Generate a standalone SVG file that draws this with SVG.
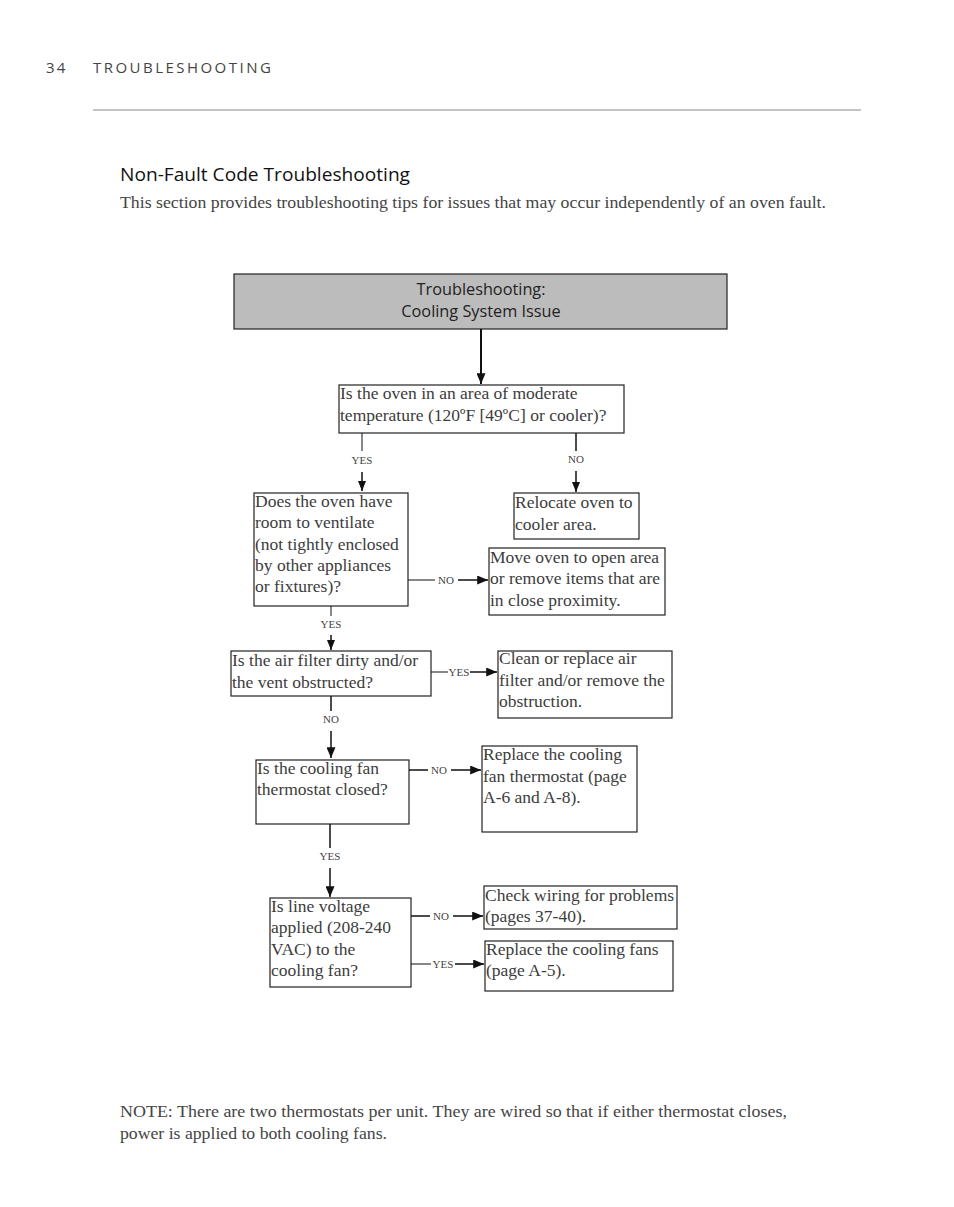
<svg xmlns="http://www.w3.org/2000/svg" width="954" height="1207" viewBox="0 0 954 1207">
<style>
.hdr{font-family:"Open Sans","Liberation Sans",sans-serif;font-size:15px;fill:#444;letter-spacing:2.2px}
.ttl{font-family:"Open Sans","Liberation Sans",sans-serif;font-size:19px;fill:#111}
.body{font-family:"Liberation Serif",serif;font-size:16px;fill:#444}
.bt{font-family:"Liberation Serif",serif;font-size:17.5px;fill:#3c3c3c}
.top{font-family:"Open Sans","Liberation Sans",sans-serif;font-size:16.3px;fill:#222;text-anchor:middle}
.lbl{font-family:"Liberation Serif",serif;font-size:11px;fill:#444;text-anchor:middle}
.box{fill:#fff;stroke:#222;stroke-width:1.2}
.ln{stroke:#111;stroke-width:1.5;fill:none}
.thin{stroke:#111;stroke-width:1;fill:none}
</style>
<defs>
<marker id="ah" viewBox="0 0 10 10" refX="10" refY="5" markerWidth="10" markerHeight="10" markerUnits="userSpaceOnUse" orient="auto">
<path d="M0,1 L10,5 L0,9 Z" fill="#111"/>
</marker>
<marker id="ahl" viewBox="0 0 12 10" refX="12" refY="5" markerWidth="12" markerHeight="9" markerUnits="userSpaceOnUse" orient="auto">
<path d="M0,0 L12,5 L0,10 Z" fill="#111"/>
</marker>
</defs>
<rect width="954" height="1207" fill="#fff"/>
<g id="header">
<text class="hdr" x="46" y="73">34</text>
<text class="hdr" x="93" y="73" textLength="180" lengthAdjust="spacing">TROUBLESHOOTING</text>
<line x1="93" y1="110" x2="861" y2="110" stroke="#888" stroke-width="1"/>
<text class="ttl" x="120" y="181" textLength="290" lengthAdjust="spacingAndGlyphs">Non-Fault Code Troubleshooting</text>
<text class="body" x="120" y="208" textLength="706" lengthAdjust="spacingAndGlyphs">This section provides troubleshooting tips for issues that may occur independently of an oven fault.</text>
</g>
<g id="n-start">
<rect x="234" y="274" width="493" height="55" fill="#bcbcbc" stroke="#222" stroke-width="1.2"/>
<text class="top" x="481" y="295">Troubleshooting:</text>
<text class="top" x="481" y="317">Cooling System Issue</text>
</g>
<g id="n-temp">
<rect class="box" x="339" y="385" width="285" height="48"/>
<text class="bt" x="340" y="399">Is the oven in an area of moderate</text>
<text class="bt" x="340" y="421">temperature (120ºF [49ºC] or cooler)?</text>
</g>
<g id="n-vent">
<rect class="box" x="254" y="493" width="154" height="113"/>
<text class="bt" x="255" y="507">Does the oven have</text>
<text class="bt" x="255" y="528">room to ventilate</text>
<text class="bt" x="255" y="550">(not tightly enclosed</text>
<text class="bt" x="255" y="571">by other appliances</text>
<text class="bt" x="255" y="592">or fixtures)?</text>
</g>
<g id="n-relocate">
<rect class="box" x="514" y="493" width="125" height="46"/>
<text class="bt" x="515" y="508">Relocate oven to</text>
<text class="bt" x="515" y="530">cooler area.</text>
</g>
<g id="n-move">
<rect class="box" x="489" y="548" width="176" height="67"/>
<text class="bt" x="490" y="563">Move oven to open area</text>
<text class="bt" x="490" y="584">or remove items that are</text>
<text class="bt" x="490" y="606">in close proximity.</text>
</g>
<g id="n-filter">
<rect class="box" x="231" y="651" width="200" height="45"/>
<text class="bt" x="232" y="666">Is the air filter dirty and/or</text>
<text class="bt" x="232" y="688">the vent obstructed?</text>
</g>
<g id="n-clean">
<rect class="box" x="498" y="651" width="174" height="67"/>
<text class="bt" x="499" y="664">Clean or replace air</text>
<text class="bt" x="499" y="686">filter and/or remove the</text>
<text class="bt" x="499" y="707">obstruction.</text>
</g>
<g id="n-thermostat">
<rect class="box" x="256" y="760" width="153" height="64"/>
<text class="bt" x="257" y="774">Is the cooling fan</text>
<text class="bt" x="257" y="795">thermostat closed?</text>
</g>
<g id="n-replace-thermo">
<rect class="box" x="482" y="746" width="155" height="86"/>
<text class="bt" x="483" y="760">Replace the cooling</text>
<text class="bt" x="483" y="782">fan thermostat (page</text>
<text class="bt" x="483" y="803">A-6 and A-8).</text>
</g>
<g id="n-voltage">
<rect class="box" x="270" y="898" width="141" height="89"/>
<text class="bt" x="271" y="912">Is line voltage</text>
<text class="bt" x="271" y="933">applied (208-240</text>
<text class="bt" x="271" y="955">VAC) to the</text>
<text class="bt" x="271" y="976">cooling fan?</text>
</g>
<g id="n-wiring">
<rect class="box" x="484" y="886" width="193" height="43"/>
<text class="bt" x="485" y="901">Check wiring for problems</text>
<text class="bt" x="485" y="922">(pages 37-40).</text>
</g>
<g id="n-fans">
<rect class="box" x="485" y="941" width="188" height="50"/>
<text class="bt" x="486" y="955">Replace the cooling fans</text>
<text class="bt" x="486" y="976">(page A-5).</text>
</g>
<g id="connectors">
<line x1="481" y1="329" x2="481" y2="384" stroke="#111" stroke-width="2" marker-end="url(#ahl)"/>
<line class="thin" x1="362" y1="433" x2="362" y2="451"/>
<text class="lbl" x="362" y="464">YES</text>
<line class="ln" x1="362" y1="472" x2="362" y2="491" marker-end="url(#ah)"/>
<line class="ln" x1="576" y1="433" x2="576" y2="451" stroke-width="2"/>
<text class="lbl" x="576" y="463">NO</text>
<line class="ln" x1="576" y1="471" x2="576" y2="492" stroke-width="2" marker-end="url(#ah)"/>
<line class="thin" x1="408" y1="580" x2="435" y2="580"/>
<text class="lbl" x="446" y="584">NO</text>
<line class="ln" x1="458" y1="580" x2="488" y2="580" marker-end="url(#ahl)"/>
<line class="thin" x1="331" y1="606" x2="331" y2="616"/>
<text class="lbl" x="331" y="628">YES</text>
<line class="ln" x1="331" y1="635" x2="331" y2="650" marker-end="url(#ah)"/>
<line class="thin" x1="431" y1="672" x2="448" y2="672"/>
<text class="lbl" x="459" y="676">YES</text>
<line class="ln" x1="470" y1="672" x2="497" y2="672" marker-end="url(#ahl)"/>
<line class="ln" x1="331" y1="696" x2="331" y2="711" stroke-width="2"/>
<text class="lbl" x="331" y="723">NO</text>
<line class="ln" x1="331" y1="731" x2="331" y2="758" stroke-width="2" marker-end="url(#ahl)"/>
<line class="ln" x1="409" y1="770" x2="428" y2="770" stroke-width="2"/>
<text class="lbl" x="439" y="774">NO</text>
<line class="ln" x1="451" y1="770" x2="481" y2="770" stroke-width="2" marker-end="url(#ahl)"/>
<line class="ln" x1="330" y1="824" x2="330" y2="848" stroke-width="2"/>
<text class="lbl" x="330" y="860">YES</text>
<line class="ln" x1="330" y1="868" x2="330" y2="897" stroke-width="2" marker-end="url(#ahl)"/>
<line class="ln" x1="411" y1="916" x2="430" y2="916" stroke-width="2"/>
<text class="lbl" x="441" y="920">NO</text>
<line class="ln" x1="453" y1="916" x2="483" y2="916" stroke-width="2" marker-end="url(#ahl)"/>
<line class="thin" x1="411" y1="964" x2="431" y2="964"/>
<text class="lbl" x="443" y="968">YES</text>
<line class="ln" x1="455" y1="964" x2="484" y2="964" marker-end="url(#ahl)"/>
</g>
<g id="note">
<text class="body" x="120" y="1117" textLength="667" lengthAdjust="spacingAndGlyphs">NOTE: There are two thermostats per unit. They are wired so that if either thermostat closes,</text>
<text class="body" x="120" y="1139" textLength="267" lengthAdjust="spacingAndGlyphs">power is applied to both cooling fans.</text>
</g>
</svg>
